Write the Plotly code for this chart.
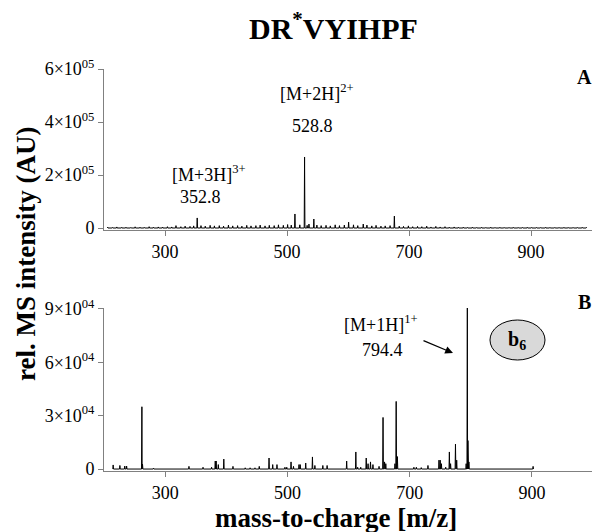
import plotly.graph_objects as go

W, H = 600, 532
OFF = 8  # the page body adds an 8px margin around the figure
SERIF = "Liberation Serif"

# ---- panel A: full MS spectrum (intensity in AU) ----
peaks_a_mz = [352.8, 513.0, 528.8, 536.0, 544.0, 601.0, 625.0, 676.0]
peaks_a_int = [38e3, 53e3, 268e3, 15e3, 34e3, 22e3, 15e3, 45e3]

noise_a_mz = [206, 214, 221, 229, 236, 244, 251, 259, 266, 274, 281, 289, 296, 304,
              311, 318, 326, 333, 341, 347, 359, 366, 374, 381, 389, 396, 404, 411,
              419, 426, 434, 441, 449, 456, 464, 471, 479, 486, 494, 501, 507, 521,
              533, 549, 556, 564, 571, 579, 586, 594, 609, 616, 631, 639, 646, 654,
              661, 669, 684, 691, 699, 706, 714, 721, 729, 736, 744, 751, 759, 766,
              774, 781, 789, 796, 804, 811, 819, 826, 834, 841, 849, 856, 864, 871,
              879, 886, 894, 901, 909, 916, 924, 931, 939, 946, 954, 961, 969, 976,
              984, 991]
noise_a_int = [3e3, 2e3, 4e3, 2.5e3, 3e3, 2e3, 4.5e3, 3e3, 2.5e3, 5e3, 3e3, 4e3, 3.5e3, 5e3,
               4e3, 9e3, 5e3, 7e3, 6e3, 8e3, 9e3, 7e3, 10e3, 8e3, 9e3, 7e3, 11e3, 8e3,
               9e3, 7e3, 10e3, 8e3, 9e3, 11e3, 8e3, 10e3, 9e3, 12e3, 10e3, 13e3, 11e3, 12e3,
               10e3, 11e3, 9e3, 10e3, 8e3, 12e3, 9e3, 11e3, 12e3, 9e3, 11e3, 8e3, 10e3, 7e3,
               8e3, 9e3, 7e3, 6e3, 8e3, 5e3, 6e3, 5e3, 7e3, 4e3, 6e3, 4e3, 5e3, 3e3,
               4e3, 2.5e3, 3e3, 2e3, 3e3, 2e3, 2.5e3, 2e3, 3e3, 2e3, 2.5e3, 2e3, 2e3, 2.5e3,
               2e3, 2e3, 2.5e3, 2e3, 2e3, 2e3, 2.5e3, 2e3, 2e3, 2e3, 2.5e3, 2e3, 2e3, 2e3,
               2.5e3, 2e3]

# ---- panel B: MS/MS of m/z 794.4 ----
peaks_b_mz = [215, 226, 234, 237, 262, 263, 281, 339, 362, 376, 382, 383.5, 387, 396,
              411, 431, 439, 447, 454, 470, 476, 483, 496, 499, 506, 510, 519, 521,
              530, 541, 545, 558, 565, 597, 612, 615, 620, 629, 632, 636, 640, 650,
              656.5, 659, 661, 676, 678, 680, 707, 711, 719, 730, 748, 750, 752, 759,
              765, 767, 775, 777, 792.5, 794.4, 795.4, 797, 902]
peaks_b_int = [2.3e3, 2e3, 1.7e3, 1.7e3, 35e3, 2.8e3, 0.5e3, 1.5e3, 1e3, 1e3, 4.5e3, 4.5e3, 2.5e3, 5.6e3,
               1.5e3, 0.7e3, 0.7e3, 0.7e3, 1.5e3, 6.2e3, 2.5e3, 2.5e3, 1e3, 1e3, 4e3, 1.5e3, 2.5e3, 2.5e3,
               3.4e3, 6.8e3, 2e3, 2e3, 2e3, 4.5e3, 9.6e3, 1e3, 1e3, 6.2e3, 3e3, 4e3, 2.5e3, 1.5e3,
               29e3, 4e3, 3e3, 3e3, 38e3, 7e3, 1e3, 1e3, 0.8e3, 2e3, 5e3, 5e3, 3e3, 1e3,
               9.6e3, 3e3, 14e3, 5e3, 3e3, 90.5e3, 16e3, 4e3, 1.5e3]

x_ticks = [300, 500, 700, 900]
a_ticks = [0, 2e5, 4e5, 6e5]
a_ticktext = ["0", "2×10<sup>05</sup>", "4×10<sup>05</sup>", "6×10<sup>05</sup>"]
b_ticks = [0, 3e4, 6e4, 9e4]
b_ticktext = ["0", "3×10<sup>04</sup>", "6×10<sup>04</sup>", "9×10<sup>04</sup>"]


def stick_profile(mz, inten, half=0.6):
    # turn a peak list into a profile line that returns to baseline
    pairs = sorted(zip(mz, inten))
    xs, ys = [], []
    for m, h in pairs:
        xs += [m - half, m, m + half]
        ys += [0, h, 0]
    return xs, ys


def px(x):
    return (x - OFF) / W


def py(y):
    return (H - (y - OFF)) / H


xa, ya = stick_profile(peaks_a_mz + noise_a_mz, peaks_a_int + noise_a_int)
xb, yb = stick_profile(peaks_b_mz, peaks_b_int)

fig = go.Figure()
fig.add_trace(go.Scatter(x=xa, y=ya, mode="lines", line={"color": "black", "width": 1},
                         xaxis="x", yaxis="y", hoverinfo="skip"))
fig.add_trace(go.Scatter(x=xb, y=yb, mode="lines", line={"color": "black", "width": 1},
                         xaxis="x2", yaxis="y2", hoverinfo="skip"))

axis_common = dict(
    showgrid=False, zeroline=False, showline=True, linecolor="#808080", linewidth=1,
    ticks="outside", ticklen=5, tickcolor="#808080", automargin=False,
    tickfont={"family": SERIF, "size": 18, "color": "black"},
)

fig.update_layout(
    template="none",
    width=W, height=H,
    margin={"l": 0, "r": 0, "t": 0, "b": 0, "autoexpand": False},
    paper_bgcolor="white", plot_bgcolor="white",
    showlegend=False,
    xaxis=dict(axis_common, domain=[px(104), px(592)], range=[200, 1000],
               tickvals=x_ticks, anchor="y"),
    yaxis=dict(axis_common, domain=[py(230), py(69)], range=[-7500, 6e5],
               tickvals=a_ticks, ticktext=a_ticktext, anchor="x"),
    xaxis2=dict(axis_common, domain=[px(104), px(593)], range=[200, 1000],
                tickvals=x_ticks, anchor="y2"),
    yaxis2=dict(axis_common, domain=[py(471), py(308)], range=[-1100, 9.05e4],
                tickvals=b_ticks, ticktext=b_ticktext, anchor="x2"),
)


def label(text, x, y, size, bold=False, **kw):
    fig.add_annotation(
        text=f"<b>{text}</b>" if bold else text,
        x=px(x), y=py(y), xref="paper", yref="paper", showarrow=False,
        xanchor=kw.pop("xanchor", "center"), yanchor=kw.pop("yanchor", "middle"),
        font={"family": SERIF, "size": size, "color": "black"}, **kw,
    )


label("DR<sup>*</sup>VYIHPF", 333, 26, 30, bold=True)
label("rel. MS intensity (AU)", 26, 254, 27, bold=True, textangle=-90)
label("mass-to-charge [m/z]", 336, 518, 27, bold=True)
label("A", 584, 77, 20, bold=True)
label("B", 584, 302, 20, bold=True)

label("[M+3H]<sup>3+</sup>", 209, 173, 18)
label("352.8", 200, 197, 18)
label("[M+2H]<sup>2+</sup>", 317, 92, 18)
label("528.8", 312, 126, 18)
label("[M+1H]<sup>1+</sup>", 381, 323, 18)
label("794.4", 382, 350, 18)

# arrow pointing at the precursor peak
fig.add_annotation(
    x=px(453), y=py(353), xref="paper", yref="paper", text="",
    showarrow=True, ax=-31, ay=-13, axref="pixel", ayref="pixel",
    arrowhead=2, arrowsize=1.3, arrowwidth=1.2, arrowcolor="black",
)

# b6 ion badge
fig.add_shape(type="circle", xref="paper", yref="paper",
              x0=px(490), x1=px(545), y0=py(360), y1=py(320),
              fillcolor="#d9d9d9", line={"color": "black", "width": 1})
label("b<sub>6</sub>", 517, 340, 20, bold=True)

fig.write_html("out.html")
